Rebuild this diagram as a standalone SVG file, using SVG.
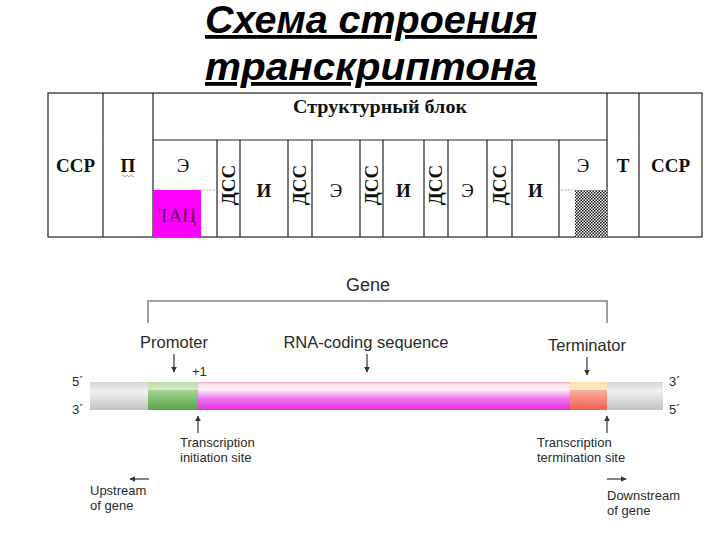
<svg xmlns="http://www.w3.org/2000/svg" width="720" height="540" viewBox="0 0 720 540">
<style>
.title{font-family:"Liberation Sans",Arial,sans-serif;font-weight:bold;font-style:italic;font-size:38px;fill:#000;text-decoration:underline;}
.tb{font-family:"Liberation Serif","Times New Roman",serif;font-weight:bold;font-size:19px;fill:#111;}
.tr{font-family:"Liberation Serif","Times New Roman",serif;font-size:19px;fill:#111;}
.ln{stroke:#222;stroke-width:1.2;fill:none;}
.lbl{font-family:"Liberation Sans",Arial,sans-serif;font-size:16.5px;fill:#2a2a2a;}
.sm{font-family:"Liberation Sans",Arial,sans-serif;font-size:13px;fill:#2a2a2a;}
.arr{stroke:#333;stroke-width:1.2;fill:none;marker-end:url(#ah);}
.dot{stroke:#999;stroke-width:1;stroke-dasharray:1.5 1.5;}
</style>
<defs>
<marker id="ah" viewBox="0 0 10 10" refX="9" refY="5" markerWidth="6" markerHeight="6" markerUnits="userSpaceOnUse" orient="auto">
<path d="M0,0 L10,5 L0,10 z" fill="#333"/>
</marker>
<pattern id="chk" width="3" height="3" patternUnits="userSpaceOnUse">
<rect width="3" height="3" fill="#fff"/>
<rect width="1.5" height="1.5" fill="#111"/>
<rect x="1.5" y="1.5" width="1.5" height="1.5" fill="#111"/>
</pattern>
<linearGradient id="gL" x1="0" y1="0" x2="0" y2="1"><stop offset="0" stop-color="#f4f4f4"/><stop offset="1" stop-color="#c2c2c2"/></linearGradient>
<linearGradient id="gU" x1="0" y1="0" x2="0" y2="1"><stop offset="0" stop-color="#d4d4d4"/><stop offset="1" stop-color="#ececec"/></linearGradient>
<linearGradient id="grL" x1="0" y1="0" x2="0" y2="1"><stop offset="0" stop-color="#a4d494"/><stop offset="1" stop-color="#58a646"/></linearGradient>
<linearGradient id="grU" x1="0" y1="0" x2="0" y2="1"><stop offset="0" stop-color="#bcdca8"/><stop offset="1" stop-color="#d8ecc8"/></linearGradient>
<linearGradient id="mL" x1="0" y1="0" x2="0" y2="1"><stop offset="0" stop-color="#fde6fc"/><stop offset="0.45" stop-color="#f070f0"/><stop offset="1" stop-color="#de30de"/></linearGradient>
<linearGradient id="mU" x1="0" y1="0" x2="0" y2="1"><stop offset="0" stop-color="#f4a8c8"/><stop offset="0.3" stop-color="#fce0ee"/><stop offset="1" stop-color="#fdeef6"/></linearGradient>
<linearGradient id="rL" x1="0" y1="0" x2="0" y2="1"><stop offset="0" stop-color="#f8b0a0"/><stop offset="1" stop-color="#f06050"/></linearGradient>
<linearGradient id="rU" x1="0" y1="0" x2="0" y2="1"><stop offset="0" stop-color="#fbe0a8"/><stop offset="1" stop-color="#fdecc8"/></linearGradient>
</defs>
<rect width="720" height="540" fill="#fff"/>

<g id="title">
<text class="title" x="371" y="33" text-anchor="middle" textLength="332" lengthAdjust="spacingAndGlyphs">Схема строения</text>
<text class="title" x="371" y="80" text-anchor="middle" textLength="332" lengthAdjust="spacingAndGlyphs">транскриптона</text>
</g>

<g id="table">
<rect x="48" y="93" width="654" height="144" class="ln"/>
<path class="ln" d="M103,93V237 M153,93V237 M607,93V237 M639,93V237 M153,140H607 M217,140V237 M240,140V237 M288,140V237 M312,140V237 M360,140V237 M383,140V237 M424,140V237 M448,140V237 M487,140V237 M512,140V237 M559,140V237"/>
<g id="cell-ssr1"><text class="tb" x="75.5" y="172" text-anchor="middle">ССР</text></g>
<g id="cell-p"><text class="tb" x="128" y="172" text-anchor="middle">П</text>
<path d="M122,176 q1,-1.5 2,0 t2,0 t2,0 t2,0 t2,0 t2,0" stroke="#8a9a50" stroke-width="0.8" fill="none"/></g>
<g id="cell-struct"><text class="tb" x="380" y="113" text-anchor="middle" textLength="174" lengthAdjust="spacingAndGlyphs">Структурный блок</text></g>
<g id="cell-e1"><text class="tr" x="183" y="172" text-anchor="middle">Э</text>
<rect x="153" y="190" width="48" height="47" fill="#ff00ff"/>
<line x1="201" y1="190" x2="217" y2="190" class="dot"/>
<text class="tr" x="177" y="222" text-anchor="middle" fill="#4a1050" style="fill:#4a1050">ТАЦ</text></g>
<g id="cell-dss1"><text class="tb" transform="translate(235,185) rotate(-90)" text-anchor="middle">ДСС</text></g>
<g id="cell-i1"><text class="tb" x="264" y="197" text-anchor="middle">И</text></g>
<g id="cell-dss2"><text class="tb" transform="translate(306,185) rotate(-90)" text-anchor="middle">ДСС</text></g>
<g id="cell-e2"><text class="tr" x="336" y="197" text-anchor="middle">Э</text></g>
<g id="cell-dss3"><text class="tb" transform="translate(378,185) rotate(-90)" text-anchor="middle">ДСС</text></g>
<g id="cell-i2"><text class="tb" x="403.5" y="197" text-anchor="middle">И</text></g>
<g id="cell-dss4"><text class="tb" transform="translate(442,185) rotate(-90)" text-anchor="middle">ДСС</text></g>
<g id="cell-e3"><text class="tr" x="467.5" y="197" text-anchor="middle">Э</text></g>
<g id="cell-dss5"><text class="tb" transform="translate(506,185) rotate(-90)" text-anchor="middle">ДСС</text></g>
<g id="cell-i3"><text class="tb" x="535.5" y="197" text-anchor="middle">И</text></g>
<g id="cell-e4"><text class="tr" x="583" y="172" text-anchor="middle">Э</text>
<line x1="559" y1="190" x2="575" y2="190" class="dot"/>
<rect x="575" y="190" width="32" height="47" fill="url(#chk)"/></g>
<g id="cell-t"><text class="tb" x="623" y="172" text-anchor="middle">Т</text></g>
<g id="cell-ssr2"><text class="tb" x="670.5" y="172" text-anchor="middle">ССР</text></g>
</g>

<g id="gene">
<text class="lbl" x="368" y="291" text-anchor="middle" style="font-size:18px">Gene</text>
<path d="M148,323V301H607V323" stroke="#a0a0a0" stroke-width="2" fill="none"/>
</g>

<g id="dna">
<rect x="90" y="382" width="58" height="8" fill="url(#gU)"/>
<rect x="90" y="390" width="58" height="20" fill="url(#gL)"/>
<rect x="148" y="382" width="50" height="8" fill="url(#grU)"/>
<rect x="148" y="390" width="50" height="20" fill="url(#grL)"/>
<rect x="198" y="382" width="372" height="8" fill="url(#mU)"/>
<rect x="198" y="390" width="372" height="20" fill="url(#mL)"/>
<rect x="570" y="382" width="37" height="8" fill="url(#rU)"/>
<rect x="570" y="390" width="37" height="20" fill="url(#rL)"/>
<rect x="607" y="382" width="56" height="8" fill="url(#gU)"/>
<rect x="607" y="390" width="56" height="20" fill="url(#gL)"/>
<text class="sm" x="72" y="386">5´</text>
<text class="sm" x="72" y="414">3´</text>
<text class="sm" x="669" y="386">3´</text>
<text class="sm" x="669" y="414">5´</text>
</g>

<g id="promoter"><text class="lbl" x="174" y="348" text-anchor="middle">Promoter</text>
<text class="sm" x="192" y="376">+1</text></g>
<g id="rna"><text class="lbl" x="366" y="348" text-anchor="middle">RNA-coding sequence</text></g>
<g id="terminator"><text class="lbl" x="587" y="351" text-anchor="middle">Terminator</text></g>
<g id="tis"><text class="sm" x="180" y="447">Transcription</text><text class="sm" x="180" y="462">initiation site</text></g>
<g id="tts"><text class="sm" x="537" y="447">Transcription</text><text class="sm" x="537" y="462">termination site</text></g>
<g id="upstream"><text class="sm" x="90" y="495">Upstream</text><text class="sm" x="90" y="510">of gene</text></g>
<g id="downstream"><text class="sm" x="607" y="500">Downstream</text><text class="sm" x="607" y="515">of gene</text></g>

<g id="connectors">
<line class="arr" x1="174" y1="354" x2="174" y2="372"/>
<line class="arr" x1="367" y1="354" x2="367" y2="372"/>
<line class="arr" x1="587" y1="357" x2="587" y2="375"/>
<line class="arr" x1="198" y1="433" x2="198" y2="416"/>
<line class="arr" x1="607" y1="433" x2="607" y2="416"/>
<line class="arr" x1="149" y1="479" x2="130" y2="479"/>
<line class="arr" x1="607" y1="479" x2="626" y2="479"/>
</g>
</svg>
